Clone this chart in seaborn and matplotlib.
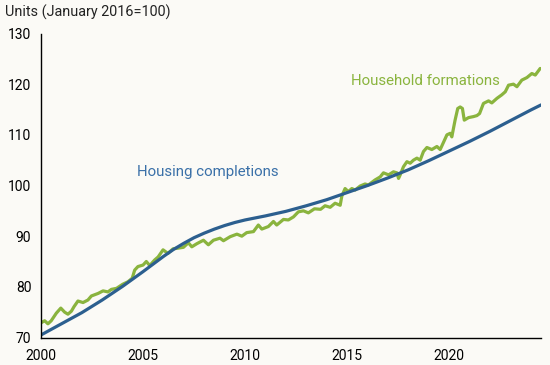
import matplotlib
matplotlib.use("Agg")
import matplotlib.pyplot as plt
import seaborn as sns
import pandas as pd

# Housing completions (index, Jan 2016 = 100)
hc_years = [2000.0, 2001, 2002, 2003, 2004, 2005, 2006, 2006.5, 2007, 2007.5,
            2008, 2008.5, 2009, 2009.5, 2010, 2011, 2012, 2013, 2014, 2015,
            2016, 2017, 2018, 2019, 2020, 2021, 2022, 2023, 2024, 2024.5]
hc_values = [70.5, 72.7, 74.9, 77.4, 80.1, 83.0, 86.0, 87.4, 88.6, 89.7,
             90.6, 91.4, 92.1, 92.7, 93.2, 94.0, 94.9, 96.0, 97.2, 98.6,
             100.0, 101.5, 103.1, 104.9, 106.8, 108.7, 110.7, 112.8, 114.9, 115.9]

# Household formations (index, Jan 2016 = 100)
hh_years = [2000.00, 2000.18, 2000.34, 2000.50, 2000.75, 2000.97, 2001.16, 2001.32,
            2001.49, 2001.62, 2001.81, 2002.06, 2002.30, 2002.47, 2002.80, 2003.04,
            2003.28, 2003.45, 2003.70, 2004.00, 2004.26, 2004.47, 2004.59, 2004.75,
            2005.00, 2005.16, 2005.33, 2005.57, 2005.74, 2005.98, 2006.22, 2006.47,
            2006.65, 2006.98, 2007.22, 2007.39, 2007.63, 2007.96, 2008.20, 2008.45,
            2008.77, 2008.94, 2009.27, 2009.60, 2009.84, 2010.08, 2010.41, 2010.65,
            2010.82, 2011.14, 2011.39, 2011.55, 2011.88, 2012.12, 2012.37, 2012.61,
            2012.86, 2013.10, 2013.40, 2013.70, 2013.92, 2014.17, 2014.41, 2014.66,
            2014.74, 2014.90, 2015.06, 2015.23, 2015.39, 2015.64, 2015.88, 2016.04,
            2016.37, 2016.62, 2016.78, 2017.03, 2017.27, 2017.44, 2017.52, 2017.60,
            2017.76, 2017.93, 2018.09, 2018.25, 2018.42, 2018.58, 2018.74, 2018.91,
            2019.15, 2019.40, 2019.56, 2019.72, 2019.89, 2020.05, 2020.13, 2020.29,
            2020.42, 2020.54, 2020.65, 2020.74, 2020.95, 2021.19, 2021.36, 2021.49,
            2021.68, 2021.93, 2022.09, 2022.34, 2022.58, 2022.75, 2022.91, 2023.15,
            2023.32, 2023.56, 2023.81, 2024.05, 2024.22, 2024.46]
hh_values = [72.9, 73.3, 72.7, 73.3, 74.8, 75.8, 75.0, 74.6,
             75.2, 76.1, 77.2, 76.9, 77.4, 78.2, 78.7, 79.2,
             79.0, 79.5, 79.7, 80.5, 81.0, 81.7, 83.3, 84.0,
             84.3, 85.0, 84.2, 85.3, 85.9, 87.3, 86.6, 87.5,
             87.6, 87.8, 88.7, 87.9, 88.5, 89.2, 88.3, 89.2,
             89.6, 89.1, 89.9, 90.4, 90.0, 90.7, 90.9, 92.2,
             91.4, 91.9, 92.9, 92.2, 93.3, 93.2, 93.8, 94.8,
             95.0, 94.6, 95.4, 95.3, 96.0, 95.7, 96.5, 96.1,
             97.9, 99.4, 98.8, 99.4, 99.1, 99.9, 100.3, 100.1,
             101.1, 101.7, 102.5, 102.1, 102.7, 102.5, 101.4, 102.1,
             103.7, 104.7, 104.4, 105.0, 105.4, 105.0, 106.7, 107.5,
             107.1, 107.7, 107.1, 108.5, 110.0, 110.3, 109.6, 112.9,
             115.2, 115.5, 115.2, 112.9, 113.4, 113.6, 113.8, 114.2,
             116.2, 116.7, 116.3, 117.2, 117.9, 118.5, 119.8, 120.0,
             119.5, 120.8, 121.3, 122.1, 121.8, 123.1]

x_ticks = [2000, 2005, 2010, 2015, 2020]
y_ticks = [70, 80, 90, 100, 110, 120, 130]

BG = "#FBFAF6"
BLUE = "#2C5F8F"
BLUE_TXT = "#3A70A8"
GREEN = "#8AB43E"

sns.set_style("white")
plt.rcParams["font.family"] = ["Roboto", "DejaVu Sans"]
plt.rcParams["font.size"] = 10

hc = pd.DataFrame({"year": hc_years, "value": hc_values})
hh = pd.DataFrame({"year": hh_years, "value": hh_values})

fig = plt.figure(figsize=(5.5, 3.65), dpi=100, facecolor=BG)
ax = fig.add_axes([41 / 550, 1 - 337.5 / 365, 500 / 550, 304 / 365])
ax.set_facecolor(BG)

sns.lineplot(data=hh, x="year", y="value", ax=ax, color=GREEN, linewidth=2.3)
sns.lineplot(data=hc, x="year", y="value", ax=ax, color=BLUE, linewidth=2.3)

ax.set_xlim(2000, 2024.5)
ax.set_ylim(70, 130)
ax.set_xticks(x_ticks)
ax.set_yticks(y_ticks)
ax.set_xlabel("")
ax.set_ylabel("")

for s in ["top", "right"]:
    ax.spines[s].set_visible(False)
for s in ["left", "bottom"]:
    ax.spines[s].set_color("black")
    ax.spines[s].set_linewidth(1.0)
ax.tick_params(axis="both", direction="out", length=5, width=1.0,
               colors="black", labelsize=10, pad=3)
ax.tick_params(axis="y", pad=2)

ax.text(2004.7, 102.7, "Housing completions", color=BLUE_TXT, fontsize=10.8,
        ha="left", va="center")
ax.text(2015.2, 120.6, "Household formations", color=GREEN, fontsize=10.8,
        ha="left", va="center")

fig.text(5 / 550, 1 - 12 / 365, "Units (January 2016=100)", fontsize=10.4,
         ha="left", va="center", color="#222222")

fig.savefig("out.png", dpi=100, facecolor=BG)
